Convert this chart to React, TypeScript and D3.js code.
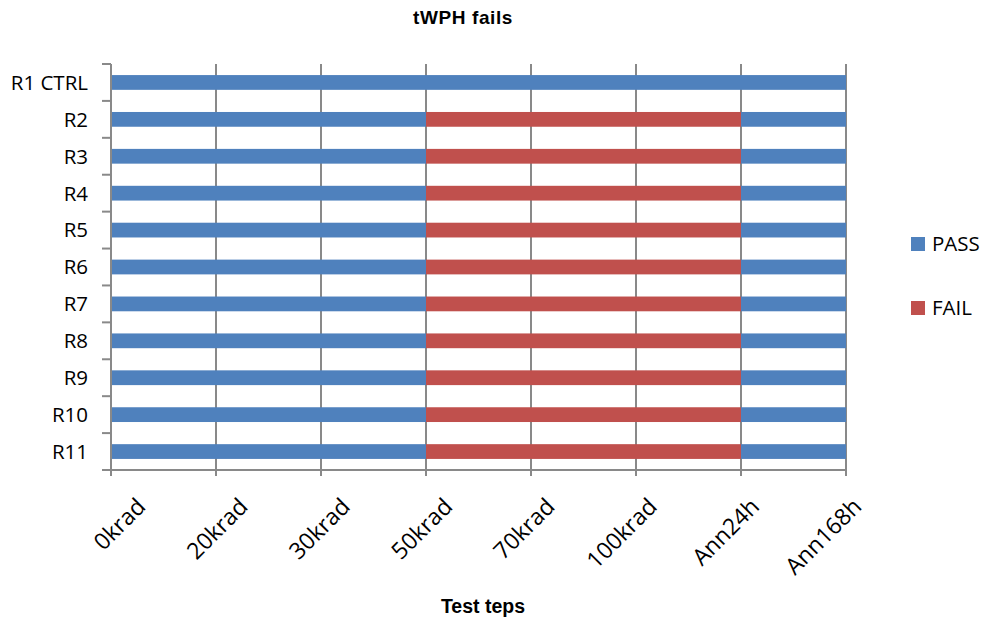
import { useEffect, useRef } from "react";
import * as d3 from "d3";

const steps = ["0krad", "20krad", "30krad", "50krad", "70krad", "100krad", "Ann24h", "Ann168h"];
const rows = ["R1 CTRL", "R2", "R3", "R4", "R5", "R6", "R7", "R8", "R9", "R10", "R11"];
// result of each row for every interval between two test steps
const ctrlResults = ["PASS", "PASS", "PASS", "PASS", "PASS", "PASS", "PASS"];
const partResults = ["PASS", "PASS", "PASS", "FAIL", "FAIL", "FAIL", "PASS"];
const results = [
  ctrlResults,
  partResults, partResults, partResults, partResults, partResults,
  partResults, partResults, partResults, partResults, partResults,
];
const legendKeys = ["PASS", "FAIL"];

function App() {
  const ref = useRef<HTMLDivElement>(null);

  useEffect(() => {
    const width = 984;
    const height = 618;
    const left = 111;
    const right = 846;
    const top = 64;
    const bottom = 470;

    d3.select(ref.current).selectAll("*").remove();

    const svg = d3
      .select(ref.current)
      .append("svg")
      .attr("width", width)
      .attr("height", height)
      .style("position", "absolute")
      .style("left", "0px")
      .style("top", "0px")
      .style("background", "#fff");

    const x = d3.scaleLinear().domain([0, steps.length - 1]).range([left, right]);
    // excel spreads the rotated labels on a slightly tighter grid than the ticks
    const xLabel = d3.scaleLinear().domain([0, steps.length - 1]).range([147, 863]);
    const y = d3.scaleBand().domain(rows).range([top, bottom]).paddingInner(0.6).paddingOuter(0.3);
    const color = d3.scaleOrdinal<string, string>().domain(legendKeys).range(["#4f81bd", "#c0504d"]);

    const axisColor = "#898989";

    // vertical gridlines
    svg
      .selectAll(".grid")
      .data(d3.range(1, steps.length))
      .enter()
      .append("line")
      .attr("x1", (d) => x(d))
      .attr("x2", (d) => x(d))
      .attr("y1", top)
      .attr("y2", bottom)
      .attr("stroke", axisColor)
      .attr("stroke-width", 2);

    // bars, one segment per interval
    const segs = rows.flatMap((r, i) =>
      results[i].map((res, j) => ({ row: r, from: j, to: j + 1, res }))
    );
    svg
      .selectAll(".seg")
      .data(segs)
      .enter()
      .append("rect")
      .attr("x", (d) => x(d.from))
      .attr("width", (d) => x(d.to) - x(d.from))
      .attr("y", (d) => y(d.row)!)
      .attr("height", y.bandwidth())
      .attr("fill", (d) => color(d.res));

    // y axis
    const step = y.step();
    svg
      .append("line")
      .attr("x1", left)
      .attr("x2", left)
      .attr("y1", top)
      .attr("y2", bottom + 6)
      .attr("stroke", axisColor)
      .attr("stroke-width", 2);
    svg
      .selectAll(".ytick")
      .data(d3.range(rows.length + 1))
      .enter()
      .append("line")
      .attr("x1", left - 9)
      .attr("x2", left)
      .attr("y1", (d) => top + d * step)
      .attr("y2", (d) => top + d * step)
      .attr("stroke", axisColor)
      .attr("stroke-width", 2);
    svg
      .selectAll(".ylab")
      .data(rows)
      .enter()
      .append("text")
      .attr("x", 88)
      .attr("y", (d) => y(d)! + y.bandwidth() / 2)
      .attr("dy", "0.36em")
      .attr("text-anchor", "end")
      .style("font-family", "'Open Sans'")
      .style("font-size", "20.5px")
      .attr("fill", "#000")
      .text((d) => d);

    // x axis
    svg
      .append("line")
      .attr("x1", left - 1)
      .attr("x2", right + 1)
      .attr("y1", bottom)
      .attr("y2", bottom)
      .attr("stroke", axisColor)
      .attr("stroke-width", 2);
    svg
      .selectAll(".xtick")
      .data(d3.range(steps.length))
      .enter()
      .append("line")
      .attr("x1", (d) => x(d))
      .attr("x2", (d) => x(d))
      .attr("y1", bottom)
      .attr("y2", bottom + 6)
      .attr("stroke", axisColor)
      .attr("stroke-width", 2);
    svg
      .selectAll(".xlab")
      .data(steps)
      .enter()
      .append("text")
      .attr("transform", (d, i) => `translate(${xLabel(i)},508) rotate(-45)`)
      .attr("text-anchor", "end")
      .style("font-family", "'Open Sans'")
      .style("font-size", "23px")
      .attr("fill", "#000")
      .text((d) => d);

    // titles
    svg
      .append("text")
      .attr("x", 463)
      .attr("y", 24)
      .attr("text-anchor", "middle")
      .style("font-family", "'Liberation Sans', Arial, sans-serif")
      .style("font-weight", "bold")
      .style("font-size", "19px")
      .style("letter-spacing", "0.6px")
      .text("tWPH fails");
    svg
      .append("text")
      .attr("x", 483)
      .attr("y", 613)
      .attr("text-anchor", "middle")
      .style("font-family", "'Liberation Sans', Arial, sans-serif")
      .style("font-weight", "bold")
      .style("font-size", "19.5px")
      .text("Test teps");

    // legend
    const legend = svg
      .selectAll(".legend")
      .data(legendKeys)
      .enter()
      .append("g")
      .attr("transform", (d, i) => `translate(911,${244 + i * 64})`);
    legend
      .append("rect")
      .attr("x", 0)
      .attr("y", -7)
      .attr("width", 14)
      .attr("height", 14)
      .attr("fill", (d) => color(d));
    legend
      .append("text")
      .attr("x", 21)
      .attr("y", 0)
      .attr("dy", "0.36em")
      .style("font-family", "'Open Sans'")
      .style("font-size", "20.5px")
      .attr("fill", "#000")
      .text((d) => d);
  }, []);

  return <div ref={ref}></div>;
}

export default App;
